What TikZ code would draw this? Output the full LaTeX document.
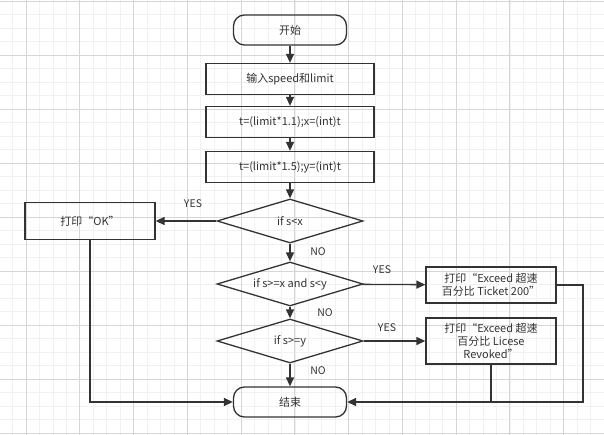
\documentclass[tikz,border=0pt]{standalone}
\usepackage{fontspec}
\setmainfont{Noto Sans CJK SC}
\usepackage{tikz}
\usetikzlibrary{positioning, calc, arrows.meta, shapes.geometric}

\definecolor{ink}{HTML}{333333}
\definecolor{gridmajor}{HTML}{D6D6D6}
\definecolor{gridminor}{HTML}{F1F1F1}

\begin{document}
\begin{tikzpicture}[x=1pt, y=-1pt, >={Triangle[length=9pt,width=8pt]}, line width=1.3pt, draw=ink, text=ink,
    font=\fontsize{11}{13}\selectfont]
    \tikzstyle{terminal}=[draw=ink, rounded corners=11pt, minimum width=113pt, minimum height=30pt, inner sep=0pt]
    \tikzstyle{process}=[draw=ink, rectangle, minimum width=168pt, minimum height=31pt, inner sep=0pt]
    \tikzstyle{output}=[draw=ink, rectangle, minimum width=130pt, align=center, inner sep=1pt]
    \tikzstyle{decision}=[draw=ink, diamond, aspect=3.3, minimum width=146pt, minimum height=44pt, inner sep=0pt]
    \tikzstyle{flow}=[->, draw=ink]
    \tikzstyle{tag}=[font=\fontsize{10.5}{12}\selectfont, text=ink]

    % background grid
    \useasboundingbox (0,0) rectangle (604,435);
    \begin{scope}[line width=0.6pt]
        \foreach \k in {-4,...,48} \draw[gridminor] ({26+13.44*\k},0) -- ({26+13.44*\k},435);
        \foreach \k in {0,...,33} \draw[gridminor] (0,{1+13.5*\k}) -- (604,{1+13.5*\k});
        \foreach \k in {0,...,11} \draw[gridmajor] ({26+53.75*\k},0) -- ({26+53.75*\k},435);
        \foreach \k in {0,...,8} \draw[gridmajor] (0,{1+54*\k}) -- (604,{1+54*\k});
    \end{scope}

    % main column
    \node[terminal] (start) at (290,30)  {开始};
    \node[process]  (input) at (290,79)  {输入speed和limit};
    \node[process]  (calcx) at (290,122) {t=(limit*1.1);x=(int)t};
    \node[process]  (calcy) at (290,167) {t=(limit*1.5);y=(int)t};
    \node[decision] (lessx) at (290,221) {if s<x};
    \node[decision] (midxy) at (290,284) {if s>=x and s<y};
    \node[decision] (overy) at (290,341) {if s>=y};
    \node[terminal] (stop)  at (290,402) {结束};

    % outputs
    \node[output, minimum height=37pt] (ok)      at (90,221)  {打印“OK”};
    \node[output, minimum height=36pt] (ticket)  at (491,285) {打印“Exceed 超速\\百分比 Ticket 200”};
    \node[output, minimum height=46pt] (revoked) at (491,341) {打印“Exceed 超速\\百分比 Licese\\Revoked”};

    % arrows down the column
    \draw[flow] (start) -- (input);
    \draw[flow] (input) -- (calcx);
    \draw[flow] (calcx) -- (calcy);
    \draw[flow] (calcy) -- (lessx);
    \draw[flow] (lessx) -- (midxy);
    \draw[flow] (midxy) -- (overy);
    \draw[flow] (overy) -- (stop);

    % branches
    \draw[flow] (lessx) -- (ok);
    \draw[flow] (midxy) -- (ticket);
    \draw[flow] (overy) -- (revoked);

    % back to the end
    \coordinate (bend) at (583,402);
    \draw[flow] (ok.south) |- (stop.west);
    \draw[flow] (ticket.east) -| (bend) |- (stop.east);
    \draw (revoked.south) -- (revoked.south |- stop.east);

    % labels
    \node[tag] (yes1) at (193,204) {YES};
    \node[tag] (no1)  at (318,252) {NO};
    \node[tag] (yes2) at (382,270) {YES};
    \node[tag] (no2)  at (325,313) {NO};
    \node[tag] (yes3) at (387,328) {YES};
    \node[tag] (no3)  at (318,371) {NO};
\end{tikzpicture}
\end{document}
